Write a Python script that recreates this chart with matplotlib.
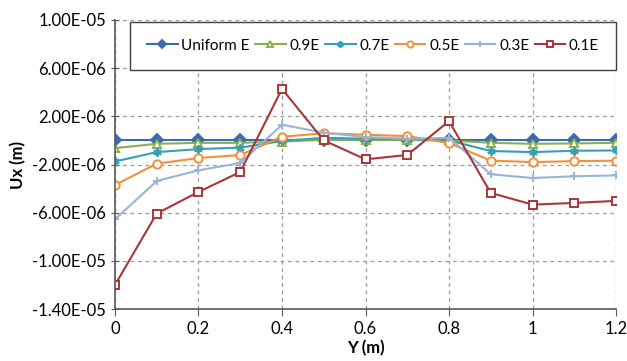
import numpy as np
import matplotlib.pyplot as plt
from matplotlib.ticker import FuncFormatter, FixedLocator, MultipleLocator

plt.rcParams['font.family'] = ['Lato', 'DejaVu Sans']

y_pos = [0, 0.1, 0.2, 0.3, 0.4, 0.5, 0.6, 0.7, 0.8, 0.9, 1.0, 1.1, 1.2]

uniform_e = [0.0, 0.0, 0.0, 0.0, 0.0, 0.0, 0.0, 0.0, 0.0, 0.0, 0.0, 0.0, 0.0]
e09 = [-0.64, -0.28, -0.2, -0.2, -0.1, 0.05, 0.05, 0.05, 0.0, -0.2, -0.28, -0.25, -0.2]
e07 = [-1.75, -0.97, -0.72, -0.6, -0.05, 0.22, 0.14, 0.14, 0.0, -0.88, -0.97, -0.86, -0.83]
e05 = [-3.7, -1.93, -1.46, -1.21, 0.3, 0.6, 0.47, 0.36, -0.22, -1.68, -1.8, -1.72, -1.68]
e03 = [-6.55, -3.37, -2.48, -1.88, 1.3, 0.64, 0.28, 0.14, 0.22, -2.81, -3.12, -2.98, -2.9]
e01 = [-12.0, -6.07, -4.28, -2.62, 4.28, 0.0, -1.57, -1.21, 1.6, -4.36, -5.33, -5.19, -5.02]

y_ticks = [-1.4e-5, -1.0e-5, -6e-6, -2e-6, 2e-6, 6e-6, 1.0e-5]

labels = ['Uniform E', '0.9E', '0.7E', '0.5E', '0.3E', '0.1E']
colors = ['#3C6BB0', '#8BAF4C', '#33A0B8', '#F0903A', '#98B5D8', '#A8363A']
markers = ['D', '^', (6, 2, 0), 'o', '+', 's']

fig = plt.figure(figsize=(6.27, 3.61), dpi=100)
ax = fig.add_axes([0.1834, 0.144, 0.7991, 0.8006])

series = [uniform_e, e09, e07, e05, e03, e01]
for vals, lab, c, m in zip(series, labels, colors, markers):
    v = np.array(vals) * 1e-6
    face = c if m in ('D', (6, 2, 0), '+') else 'white'
    ax.plot(y_pos, v, color=c, lw=1.5, marker=m, markersize=6,
            markerfacecolor=face, markeredgecolor=c, markeredgewidth=1.4,
            label=lab)

ax.set_xlim(0, 1.2)
ax.set_ylim(-1.4e-5, 1.0e-5)
ax.xaxis.set_major_locator(MultipleLocator(0.2))
ax.yaxis.set_major_locator(FixedLocator(y_ticks))
ax.xaxis.set_major_formatter(FuncFormatter(lambda v, p: '%g' % round(v, 2)))
ax.yaxis.set_major_formatter(FuncFormatter(lambda v, p: '%.2E' % v))

ax.grid(True, ls=(0, (3, 3)), color='#999999', lw=0.9)
ax.set_axisbelow(True)
for s in ['top', 'right']:
    ax.spines[s].set_visible(False)
for s in ['left', 'bottom']:
    ax.spines[s].set_color('#595959')
    ax.spines[s].set_linewidth(1.2)
ax.tick_params(axis='y', direction='inout', length=6, color='#595959', labelsize=12)
ax.tick_params(axis='x', direction='out', length=5, color='#595959', labelsize=12)

ax.set_xlabel('Y (m)', fontsize=12, fontweight='bold', labelpad=2)
ax.set_ylabel('Ux (m)', fontsize=12, fontweight='bold', labelpad=4)

leg = ax.legend(loc='upper center', bbox_to_anchor=(0.515, 0.993),
                ncol=6, borderaxespad=0, fontsize=11,
                handlelength=2.0, handletextpad=0.25, columnspacing=0.35,
                borderpad=1.1, fancybox=False, framealpha=1, markerscale=0.75)
leg.get_frame().set_edgecolor('#404040')
leg.get_frame().set_linewidth(1.0)

fig.savefig('out.png', dpi=100)
